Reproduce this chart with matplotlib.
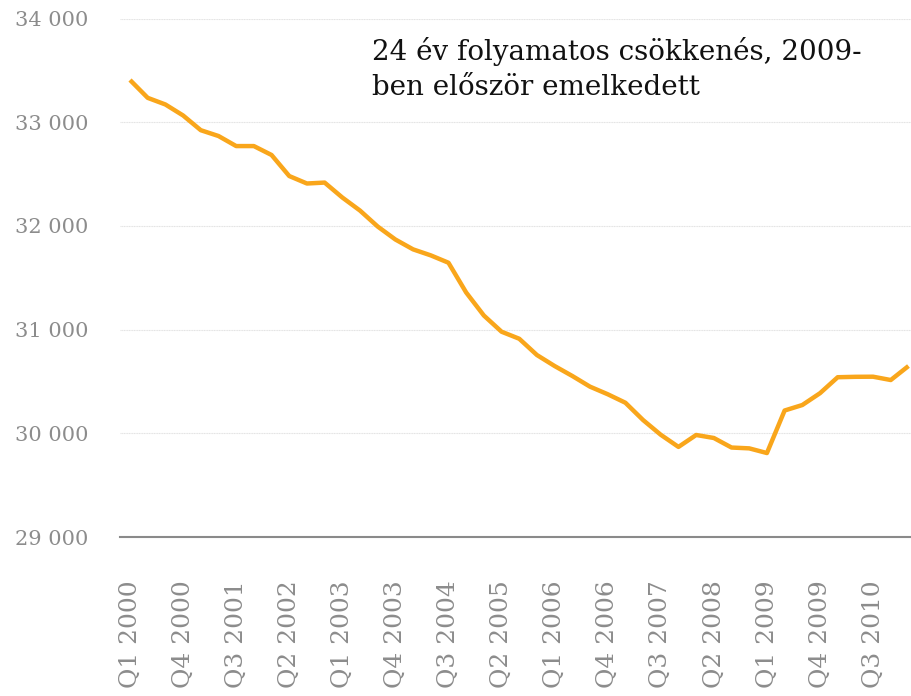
import matplotlib
matplotlib.use("Agg")
import matplotlib.pyplot as plt
import numpy as np

# negyedéves adatok, Q1 2000 - Q1 2011
negyedevek = [f"Q{q} {ev}" for ev in range(2000, 2011) for q in range(1, 5)] + ["Q1 2011"]
ertekek = [33407, 33235, 33171, 33065, 32923, 32867, 32770, 32770,
           32684, 32481, 32409, 32418, 32274, 32148, 31994, 31869,
           31774, 31716, 31645, 31358, 31136, 30980, 30912, 30755,
           30649, 30553, 30450, 30377, 30295, 30128, 29986, 29869,
           29984, 29955, 29863, 29855, 29810, 30220, 30273, 30387,
           30541, 30545, 30546, 30514, 30649]
y_ticks = [29000, 30000, 31000, 32000, 33000, 34000]
y_labels = ["29 000", "30 000", "31 000", "32 000", "33 000", "34 000"]
cimke = "24 év folyamatos csökkenés, 2009-\nben először emelkedett"

serif = ["DejaVu Serif"]
szurke = "#8c8c8c"

fig = plt.figure(figsize=(9.12, 6.96), dpi=100)
ax = fig.add_axes([0.1316, 0.2284, 0.8684, 0.745])

x = np.arange(len(ertekek))
ax.plot(x, ertekek, color="#F9A61B", lw=3.2, solid_joinstyle="round",
        solid_capstyle="butt", zorder=3)

ax.set_ylim(29000, 34000)
ax.set_xlim(-0.565, 44.2)
ax.set_yticks(y_ticks)
ax.set_yticklabels(y_labels, family=serif, fontsize=15, color=szurke)
ax.set_xticks(x[::3])
ax.set_xticklabels(negyedevek[::3], rotation=90, family=serif, fontsize=18,
                   color=szurke, ha="center", va="top")
ax.tick_params(axis="both", length=0)
ax.tick_params(axis="y", pad=23)
ax.tick_params(axis="x", pad=31)

for v in y_ticks[1:]:
    ax.axhline(v, color="#e3e3e3", lw=0.8, ls=(0, (1, 0.5)), zorder=1)
for s in ["top", "right", "left"]:
    ax.spines[s].set_visible(False)
ax.spines["bottom"].set_color("#8a8a8a")
ax.spines["bottom"].set_linewidth(1.5)

fig.text(0.408, 0.947, cimke, family=serif, fontsize=20, color="#111111",
         ha="left", va="top", linespacing=1.4)

fig.savefig("out.png", dpi=100)
